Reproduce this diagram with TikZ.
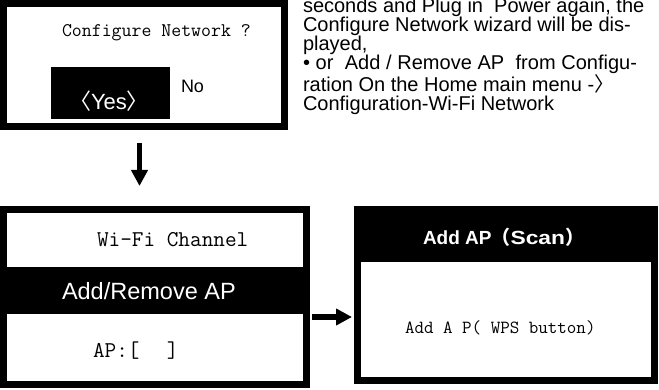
\documentclass[tikz,border=0pt]{standalone}
\usepackage{fontspec}
\setmainfont{Liberation Sans}
\newfontfamily\cjk{Noto Sans CJK SC}
\usetikzlibrary{arrows.meta}
\tikzset{
  screen/.style={draw=black, line width=7pt, inner sep=0pt, outer sep=0pt, anchor=north west},
  band/.style={fill=black, draw=none, inner sep=0pt, outer sep=0pt, anchor=north west},
  txt/.style={inner sep=0pt, outer sep=0pt, anchor=base west},
  para/.style={txt, font=\fontsize{20}{24}\selectfont},
  mono/.style={txt, font=\ttfamily\fontsize{#1}{#1}\selectfont},
  bigarrow/.style={line width=#1, -{Triangle[length=16pt,width=16pt]}},
}
\begin{document}
\begin{tikzpicture}[x=1pt,y=-1pt]
\useasboundingbox (0,0) rectangle (659,390);
% black highlight bands
\node[band, minimum width=119pt, minimum height=52pt] (yesbox) at (51,67) {};
\node[band, minimum width=300pt, minimum height=47pt] (bandl) at (3.5,267) {};
\node[band, minimum width=297pt, minimum height=53pt] (bandr) at (357.5,209.5) {};
% screens
\node[screen, minimum width=281pt, minimum height=123pt] (top) at (3.5,3.5) {};
\node[screen, minimum width=303pt, minimum height=175pt] (left) at (3.5,209.5) {};
\node[screen, minimum width=297pt, minimum height=171pt] (right) at (357.5,209.5) {};
% top screen texts
\node[mono=19.3] (q) at (62,37) {Configure Network ?};
\node[inner sep=0pt, anchor=base, text=white, font=\fontsize{22}{22}\selectfont] (yes) at (109,110) {{\cjk 〈}Yes{\cjk 〉}};
\node[txt, font=\fontsize{18}{18}\selectfont] (no) at (181,93) {No};
% paragraph
\node[para] (l1) at (303,13) {seconds and Plug in\ \ Power again, the};
\node[para] (l2) at (303,32) {Configure Network wizard will be dis-};
\node[para] (l3) at (303,51) {played,};
\node[para] (l4) at (303,70) {\makebox[334pt][s]{• or\ \ Add / Remove AP\ \ from Configu-}};
\node[para] (l5) at (303,92) {ration On the Home main menu -{\cjk 〉}};
\node[para] (l6) at (303,111) {Configuration-Wi-Fi Network};
% left screen texts
\node[mono=22.6] (wifi) at (97,247) {Wi-Fi Channel};
\node[txt, text=white, font=\fontsize{23.5}{23.5}\selectfont] (addrm) at (62,300) {Add/Remove AP};
\node[mono=22.6] (ap) at (93,357) {AP:[\ \ \hspace{4pt}]};
% right screen texts
\node[txt, text=white, font=\bfseries\fontsize{19}{19}\selectfont] (scan) at (423,245) {Add AP{\cjk （}\scalebox{1.2}[1]{Scan}{\cjk ）}};
\node[mono=18.5] (wps) at (405,334) {Add A P( WPS button)};
% arrows
\coordinate (d1) at (139.5,143);
\coordinate (d2) at (139.5,186);
\draw[bigarrow=5pt] (d1) -- (d2);
\coordinate (r1) at (312,317);
\coordinate (r2) at (352,317);
\draw[bigarrow=6pt] (r1) -- (r2);
\end{tikzpicture}
\end{document}
